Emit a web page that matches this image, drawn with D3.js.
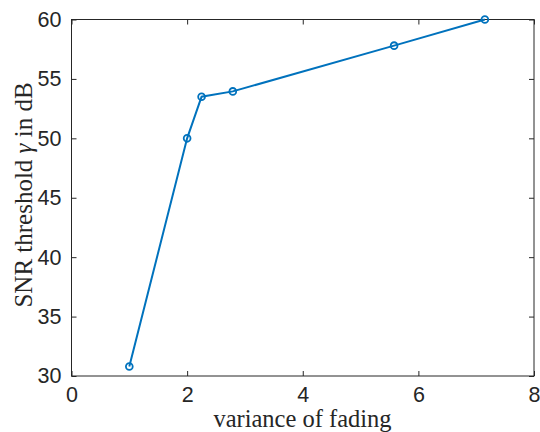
<!DOCTYPE html>
<html><head><meta charset="utf-8">
<script src="https://cdn.jsdelivr.net/npm/d3@7"></script>
<style>body{margin:0;background:#fff}svg{display:block}</style>
</head><body>
<svg id="c" width="540" height="432"></svg>
<script>
const xValues = [1, 2, 2.25, 2.79, 5.58, 7.15];
const yValues = [30.8, 50, 53.5, 53.95, 57.8, 60];
const xTicks = [0, 2, 4, 6, 8];
const yTicks = [30, 35, 40, 45, 50, 55, 60];
const xLabel = "variance of fading";

const svg = d3.select("#c");
const L = 71.5, R = 534, T = 19.5, B = 376;
const x = d3.scaleLinear().domain([0, 8]).range([L, R]);
const y = d3.scaleLinear().domain([30, 60]).range([B, T]);
const axisColor = "#262626";
const tickFont = "Liberation Sans, Arial, Helvetica, sans-serif";

svg.append("rect").attr("x", L).attr("y", T).attr("width", R - L).attr("height", B - T)
  .attr("fill", "none").attr("stroke", axisColor).attr("stroke-width", 1);

const xb = svg.append("g").attr("transform", `translate(0,${B})`)
  .call(d3.axisBottom(x).tickValues(xTicks).tickSizeInner(-5).tickSizeOuter(0).tickPadding(11));
const xt = svg.append("g").attr("transform", `translate(0,${T})`)
  .call(d3.axisTop(x).tickValues(xTicks).tickSizeInner(-5).tickSizeOuter(0).tickFormat(""));
const yl = svg.append("g").attr("transform", `translate(${L},0)`)
  .call(d3.axisLeft(y).tickValues(yTicks).tickSizeInner(-5).tickSizeOuter(0).tickPadding(10));
const yr = svg.append("g").attr("transform", `translate(${R},0)`)
  .call(d3.axisRight(y).tickValues(yTicks).tickSizeInner(-5).tickSizeOuter(0).tickFormat(""));
[xb, xt, yl, yr].forEach(g => {
  g.select(".domain").remove();
  g.selectAll("line").attr("stroke", axisColor);
  g.selectAll("text").attr("fill", axisColor).style("font-family", tickFont).style("font-size", "21.5px");
});

const line = d3.line().x((d, i) => x(xValues[i])).y((d, i) => y(yValues[i]));
svg.append("path").datum(yValues).attr("d", line).attr("fill", "none")
  .attr("stroke", "#0072BD").attr("stroke-width", 2);
svg.selectAll("circle.m").data(yValues).enter().append("circle")
  .attr("cx", (d, i) => x(xValues[i])).attr("cy", d => y(d)).attr("r", 3.4)
  .attr("fill", "none").attr("stroke", "#0072BD").attr("stroke-width", 1.8);

const serif = "Liberation Serif, Times New Roman, serif";
svg.append("text").attr("x", 302.5).attr("y", 427).attr("text-anchor", "middle")
  .style("font-family", serif).style("font-size", "24.5px").attr("fill", axisColor).text(xLabel);
const yt = svg.append("text").attr("transform", `translate(32,195) rotate(-90)`)
  .attr("text-anchor", "middle").style("font-family", serif).style("font-size", "25px").attr("fill", axisColor);
yt.append("tspan").text("SNR threshold ");
yt.append("tspan").style("font-style", "italic").text("γ");
yt.append("tspan").text(" in dB");
</script>
</body></html>
